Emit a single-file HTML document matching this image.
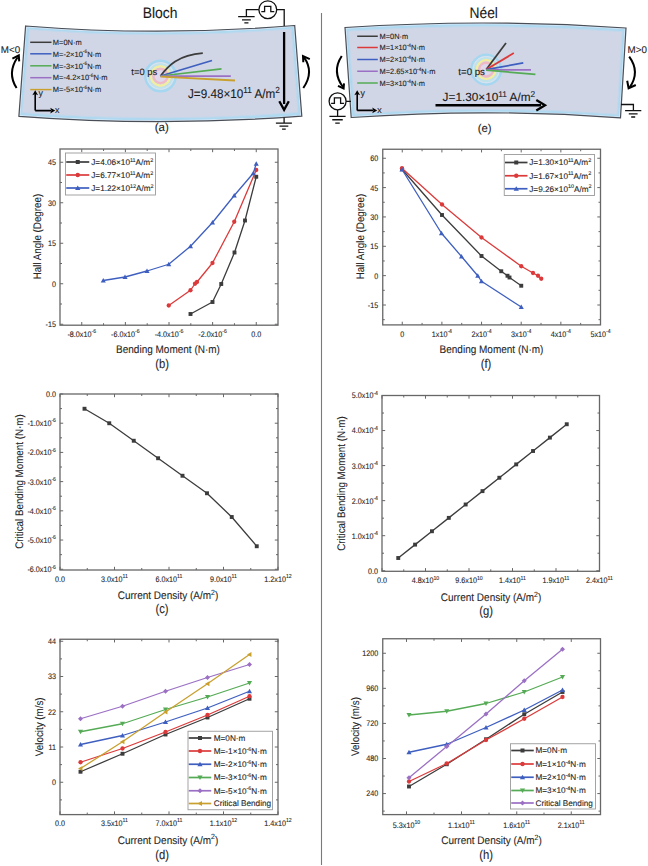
<!DOCTYPE html><html><head><meta charset="utf-8"><style>html,body{margin:0;padding:0;background:#fff;}svg{display:block;} text{stroke:#222;stroke-width:0.1px;text-rendering:geometricPrecision;}</style></head><body>
<svg width="648" height="866" viewBox="0 0 648 866" font-family='"Liberation Sans", sans-serif'>
<rect width="648" height="866" fill="#fff"/>
<path d="M321.5,13V865" stroke="#7a7a7a" stroke-width="1.1"/>
<defs>
<filter id="bl" x="-0.2" y="-0.2" width="1.4" height="1.4"><feGaussianBlur stdDeviation="0.45"/></filter>
<radialGradient id="sky" cx="0.5" cy="0.5" r="0.5">
<stop offset="0" stop-color="#ddd8ee"/>
<stop offset="0.22" stop-color="#e4d4e6"/>
<stop offset="0.36" stop-color="#f2b9c8"/>
<stop offset="0.50" stop-color="#f1c8c8"/>
<stop offset="0.58" stop-color="#f3ef9c"/>
<stop offset="0.68" stop-color="#e8f0b8"/>
<stop offset="0.75" stop-color="#c4e6ee"/>
<stop offset="0.82" stop-color="#d2e4ee"/>
<stop offset="0.90" stop-color="#a9d9f0"/>
<stop offset="1" stop-color="#bcdcef" stop-opacity="0"/>
</radialGradient>
</defs>
<text transform="translate(160.1,17.6) scale(0.915,1)" font-size="15.2" text-anchor="middle" fill="#1a1a1a">Bloch</text>
<clipPath id="clipA"><path d="M25.6,26 Q159.85,36.65 294.7,25.5 L301.8,116.2 Q159.65,126.95 18.9,116.3 Z"/></clipPath>
<path d="M25.6,26 Q159.85,36.65 294.7,25.5 L301.8,116.2 Q159.65,126.95 18.9,116.3 Z" fill="#aed9f0"/>
<path d="M29.38,29.60 Q159.67,40.25 291.28,29.10 L298.02,112.60 Q159.83,123.35 22.32,112.70 Z" fill="#d1d6e6" stroke="#c2d8ec" stroke-width="1"/>
<path d="M25.6,26 Q159.85,36.65 294.7,25.5 L301.8,116.2 Q159.65,126.95 18.9,116.3 Z" fill="none" stroke="#dbe9f8" stroke-width="2.6" clip-path="url(#clipA)"/>
<path d="M25.6,26 Q159.85,36.65 294.7,25.5 L301.8,116.2 Q159.65,126.95 18.9,116.3 Z" fill="none" stroke="#4a4e56" stroke-width="1.2"/>
<path d="M30.2,42.3H51.5" stroke="#3c3c3c" stroke-width="1.5"/>
<text transform="translate(52.8,45.0) scale(0.975,1)" font-size="7.7" fill="#1a1a1a">M=0N·m</text>
<path d="M30.2,53.8H51.5" stroke="#3e5fc0" stroke-width="1.5"/>
<text transform="translate(52.8,56.5) scale(0.975,1)" font-size="7.7" fill="#1a1a1a">M=-2×10<tspan font-size="5.00" dy="-3.08">-6</tspan><tspan dy="3.08">N·m</tspan></text>
<path d="M30.2,65.8H51.5" stroke="#55ab55" stroke-width="1.5"/>
<text transform="translate(52.8,68.5) scale(0.975,1)" font-size="7.7" fill="#1a1a1a">M=-3×10<tspan font-size="5.00" dy="-3.08">-6</tspan><tspan dy="3.08">N·m</tspan></text>
<path d="M30.2,77.7H51.5" stroke="#9b70c4" stroke-width="1.5"/>
<text transform="translate(52.8,80.4) scale(0.975,1)" font-size="7.7" fill="#1a1a1a">M=-4.2×10<tspan font-size="5.00" dy="-3.08">-6</tspan><tspan dy="3.08">N·m</tspan></text>
<path d="M30.2,89.6H51.5" stroke="#c9a02e" stroke-width="1.5"/>
<text transform="translate(52.8,92.3) scale(0.975,1)" font-size="7.7" fill="#1a1a1a">M=-5×10<tspan font-size="5.00" dy="-3.08">-6</tspan><tspan dy="3.08">N·m</tspan></text>
<path d="M35.2,110.6V94 M35.2,110.6H51" fill="none" stroke="#000" stroke-width="1.6"/>
<path d="M35.20,90.30 L38.10,95.30 L35.20,94.10 L32.30,95.30Z" fill="#000"/>
<path d="M55.20,110.60 L50.20,113.50 L51.40,110.60 L50.20,107.70Z" fill="#000"/>
<text x="38.5" y="95.8" font-size="8.8" fill="#1a1a1a">y</text><text x="55" y="112.6" font-size="8.8" fill="#1a1a1a">x</text>
<g filter="url(#bl)">
<circle cx="160.5" cy="76" r="15.20" fill="none" stroke="#a6d7f0" stroke-width="2.60"/>
<circle cx="160.5" cy="76" r="13.20" fill="none" stroke="#d4e4f0" stroke-width="1.30"/>
<circle cx="160.5" cy="76" r="11.70" fill="none" stroke="#bde3eb" stroke-width="1.70"/>
<circle cx="160.5" cy="76" r="9.60" fill="none" stroke="#f2eea0" stroke-width="2.20"/>
<circle cx="160.5" cy="76" r="7.00" fill="none" stroke="#f0b9c6" stroke-width="2.40"/>
<circle cx="160.5" cy="76" r="5.80" fill="#e0d8ec"/>
</g>
<path d="M160.5,76 C168,66 178,55 202.8,53.2" fill="none" stroke="#3c3c3c" stroke-width="1.8"/>
<path d="M160.5,76 L212,60.5" stroke="#3e5fc0" stroke-width="1.75"/>
<path d="M160.5,76 L221.5,68.8" stroke="#55ab55" stroke-width="1.75"/>
<path d="M160.5,76 L230.8,76.2" stroke="#9b70c4" stroke-width="1.75"/>
<path d="M160.5,76.6 L235,80.5" stroke="#c9a02e" stroke-width="1.8"/>
<text x="131.3" y="74.8" font-size="9.4" fill="#1a1a1a">t=0 ps</text>
<text transform="translate(188,97.8) scale(0.93,1)" font-size="12.6" fill="#1a1a1a">J=9.48×10<tspan font-size="8.8" dy="-4.9">11</tspan><tspan dy="4.9"> A/m</tspan><tspan font-size="8.8" dy="-4.9">2</tspan></text>
<path d="M284.1,32V104" stroke="#000" stroke-width="2.3"/>
<path d="M279.3,101.3 L284.1,109.9 L288.8,101.3" fill="none" stroke="#000" stroke-width="2.3"/>
<circle cx="267.8" cy="9.7" r="8.9" fill="none" stroke="#111" stroke-width="1.3"/>
<path d="M261.3,11.7 h3.3 v-5.4 h6.2 v5.4 h3.5" fill="none" stroke="#111" stroke-width="1.3"/>
<path d="M258.9,9.7H246.4V16.7 M276.7,9.7H284.2V26" fill="none" stroke="#111" stroke-width="1.3"/>
<path d="M238.15,16.7h16.5 M242.0,19.8h8.8 M244.35,22.9h4.1" stroke="#111" stroke-width="1.3"/>
<path d="M284.1,117.4V123" stroke="#111" stroke-width="1.3"/>
<path d="M275.9,123.1h16 M279.5,126.1h8.8 M282.04999999999995,129.1h3.7" stroke="#111" stroke-width="1.3"/>
<text x="0.8" y="53.2" font-size="9.8" fill="#1a1a1a">M&lt;0</text>
<path d="M16.6,88 Q6.8,73 17.6,57.2" fill="none" stroke="#000" stroke-width="2"/>
<path d="M12.4,58.6 L18.8,55.4 L19.2,61.4" fill="none" stroke="#000" stroke-width="2" stroke-linejoin="miter"/>
<path d="M303.3,88 Q314.5,72 304,57.4" fill="none" stroke="#000" stroke-width="2"/>
<path d="M303.3,62.3 L303,56 L309.8,59.2" fill="none" stroke="#000" stroke-width="2"/>
<text x="161.8" y="131" font-size="11.5" text-anchor="middle" fill="#1a1a1a">(a)</text>
<text transform="translate(483.7,17.6) scale(0.91,1)" font-size="15.2" text-anchor="middle" fill="#1a1a1a">Néel</text>
<clipPath id="clipE"><path d="M345,27.5 Q486.50,18.25 626,28 L620.5,117.8 Q486.15,107.95 351.2,117.5 Z"/></clipPath>
<path d="M345,27.5 Q486.50,18.25 626,28 L620.5,117.8 Q486.15,107.95 351.2,117.5 Z" fill="#aed9f0"/>
<path d="M348.42,31.10 Q486.68,21.85 622.22,31.60 L617.08,114.20 Q485.97,104.35 354.98,113.90 Z" fill="#d1d6e6" stroke="#c2d8ec" stroke-width="1"/>
<path d="M345,27.5 Q486.50,18.25 626,28 L620.5,117.8 Q486.15,107.95 351.2,117.5 Z" fill="none" stroke="#dbe9f8" stroke-width="2.6" clip-path="url(#clipE)"/>
<path d="M345,27.5 Q486.50,18.25 626,28 L620.5,117.8 Q486.15,107.95 351.2,117.5 Z" fill="none" stroke="#4a4e56" stroke-width="1.2"/>
<path d="M357.2,36.25H377.8" stroke="#3c3c3c" stroke-width="1.5"/>
<text transform="translate(379.5,38.95) scale(0.965,1)" font-size="7.7" fill="#1a1a1a">M=0N·m</text>
<path d="M357.2,47.5H377.8" stroke="#dc3a3a" stroke-width="1.5"/>
<text transform="translate(379.5,50.2) scale(0.965,1)" font-size="7.7" fill="#1a1a1a">M=1×10<tspan font-size="5.00" dy="-3.08">-4</tspan><tspan dy="3.08">N·m</tspan></text>
<path d="M357.2,59.5H377.8" stroke="#3e5fc0" stroke-width="1.5"/>
<text transform="translate(379.5,62.2) scale(0.965,1)" font-size="7.7" fill="#1a1a1a">M=2×10<tspan font-size="5.00" dy="-3.08">-4</tspan><tspan dy="3.08">N·m</tspan></text>
<path d="M357.2,71.25H377.8" stroke="#9b70c4" stroke-width="1.5"/>
<text transform="translate(379.5,73.95) scale(0.965,1)" font-size="7.7" fill="#1a1a1a">M=2.65×10<tspan font-size="5.00" dy="-3.08">-4</tspan><tspan dy="3.08">N·m</tspan></text>
<path d="M357.2,83H377.8" stroke="#55ab55" stroke-width="1.5"/>
<text transform="translate(379.5,85.7) scale(0.965,1)" font-size="7.7" fill="#1a1a1a">M=3×10<tspan font-size="5.00" dy="-3.08">-4</tspan><tspan dy="3.08">N·m</tspan></text>
<path d="M357.2,110.4V94 M357.2,110.4H373" fill="none" stroke="#000" stroke-width="1.6"/>
<path d="M357.20,90.30 L360.10,95.30 L357.20,94.10 L354.30,95.30Z" fill="#000"/>
<path d="M377.20,110.40 L372.20,113.30 L373.40,110.40 L372.20,107.50Z" fill="#000"/>
<text x="360.6" y="95.8" font-size="8.8" fill="#1a1a1a">y</text><text x="377.2" y="112.6" font-size="8.8" fill="#1a1a1a">x</text>
<g filter="url(#bl)">
<circle cx="486.2" cy="69.6" r="14.92" fill="none" stroke="#a6d7f0" stroke-width="2.55"/>
<circle cx="486.2" cy="69.6" r="12.96" fill="none" stroke="#d4e4f0" stroke-width="1.28"/>
<circle cx="486.2" cy="69.6" r="11.49" fill="none" stroke="#bde3eb" stroke-width="1.67"/>
<circle cx="486.2" cy="69.6" r="9.43" fill="none" stroke="#f2eea0" stroke-width="2.16"/>
<circle cx="486.2" cy="69.6" r="6.87" fill="none" stroke="#f0b9c6" stroke-width="2.36"/>
<circle cx="486.2" cy="69.6" r="5.69" fill="#e0d8ec"/>
</g>
<path d="M486.2,69.6 L506,43.1" stroke="#3c3c3c" stroke-width="1.75"/>
<path d="M486.2,69.6 L513.8,53.1" stroke="#dc3a3a" stroke-width="1.75"/>
<path d="M486.2,69.6 L523.3,62.9" stroke="#3e5fc0" stroke-width="1.75"/>
<path d="M486.2,69.8 L531,69.8" stroke="#9b70c4" stroke-width="1.75"/>
<path d="M486.2,70.2 L535.4,74.4" stroke="#55ab55" stroke-width="1.75"/>
<text x="458.3" y="75" font-size="9.7" fill="#1a1a1a">t=0 ps</text>
<text transform="translate(442.6,101.2) scale(1.0,1)" font-size="11.8" fill="#1a1a1a">J=1.30×10<tspan font-size="8.3" dy="-4.6">11</tspan><tspan dy="4.6"> A/m</tspan><tspan font-size="8.3" dy="-4.6">2</tspan></text>
<path d="M435.5,105.2H541" stroke="#000" stroke-width="2.4"/>
<path d="M536.3,100 L545,105.2 L536.3,110.4" fill="none" stroke="#000" stroke-width="2.3"/>
<circle cx="337.6" cy="101.3" r="8.5" fill="none" stroke="#111" stroke-width="1.3"/>
<path d="M331.1,103.3 h3.3 v-5.4 h6.2 v5.4 h3.5" fill="none" stroke="#111" stroke-width="1.3"/>
<path d="M346.1,101.3H351 M337.6,109.8V116.3" fill="none" stroke="#111" stroke-width="1.3"/>
<path d="M329.4,116.3h16.2 M332.25,119.75h10.5 M335.25,123.2h4.5" stroke="#111" stroke-width="1.3"/>
<path d="M621,104.5H633.4V110.7" fill="none" stroke="#111" stroke-width="1.3"/>
<path d="M625.1,110.7h16.2 M628.8000000000001,113.85000000000001h8.8 M631.2,117.0h4" stroke="#111" stroke-width="1.3"/>
<path d="M341.75,56 Q331.5,71.5 343,87" fill="none" stroke="#000" stroke-width="2"/>
<path d="M338,85.8 L343.6,88.5 L344,83.3" fill="none" stroke="#000" stroke-width="2"/>
<text x="627.5" y="53.2" font-size="9.8" fill="#1a1a1a">M&gt;0</text>
<path d="M629.2,56.6 Q640.5,72 629.6,87.5" fill="none" stroke="#000" stroke-width="2"/>
<path d="M627.2,80.8 L628.6,88.2 L635.8,85" fill="none" stroke="#000" stroke-width="2"/>
<text x="484.7" y="131.8" font-size="11.3" text-anchor="middle" fill="#1a1a1a">(e)</text>
<path d="M190.50,314.00 L212.50,302.00 L221.25,284.00 L234.50,252.50 L245.00,220.50 L256.25,176.75" fill="none" stroke="#3c3c3c" stroke-width="1.3" stroke-linejoin="round"/>
<rect x="188.55" y="312.05" width="3.90" height="3.90" fill="#3c3c3c"/>
<rect x="210.55" y="300.05" width="3.90" height="3.90" fill="#3c3c3c"/>
<rect x="219.30" y="282.05" width="3.90" height="3.90" fill="#3c3c3c"/>
<rect x="232.55" y="250.55" width="3.90" height="3.90" fill="#3c3c3c"/>
<rect x="243.05" y="218.55" width="3.90" height="3.90" fill="#3c3c3c"/>
<rect x="254.30" y="174.80" width="3.90" height="3.90" fill="#3c3c3c"/>
<path d="M168.75,305.50 L190.50,290.25 L195.00,283.75 L197.00,282.00 L212.50,263.00 L234.25,221.75 L256.25,170.00" fill="none" stroke="#dc3a3a" stroke-width="1.3" stroke-linejoin="round"/>
<circle cx="168.75" cy="305.50" r="2.15" fill="#dc3a3a"/>
<circle cx="190.50" cy="290.25" r="2.15" fill="#dc3a3a"/>
<circle cx="195.00" cy="283.75" r="2.15" fill="#dc3a3a"/>
<circle cx="197.00" cy="282.00" r="2.15" fill="#dc3a3a"/>
<circle cx="212.50" cy="263.00" r="2.15" fill="#dc3a3a"/>
<circle cx="234.25" cy="221.75" r="2.15" fill="#dc3a3a"/>
<circle cx="256.25" cy="170.00" r="2.15" fill="#dc3a3a"/>
<path d="M103.25,280.50 L125.00,277.00 L147.00,271.00 L168.75,264.25 L190.50,246.25 L212.50,222.50 L234.25,195.50 L253.25,173.25 L256.25,163.75" fill="none" stroke="#3e5fc0" stroke-width="1.3" stroke-linejoin="round"/>
<path d="M103.25,278.06 L105.81,282.45 L100.69,282.45Z" fill="#3e5fc0"/>
<path d="M125.00,274.56 L127.56,278.95 L122.44,278.95Z" fill="#3e5fc0"/>
<path d="M147.00,268.56 L149.56,272.95 L144.44,272.95Z" fill="#3e5fc0"/>
<path d="M168.75,261.81 L171.31,266.20 L166.19,266.20Z" fill="#3e5fc0"/>
<path d="M190.50,243.81 L193.06,248.20 L187.94,248.20Z" fill="#3e5fc0"/>
<path d="M212.50,220.06 L215.06,224.45 L209.94,224.45Z" fill="#3e5fc0"/>
<path d="M234.25,193.06 L236.81,197.45 L231.69,197.45Z" fill="#3e5fc0"/>
<path d="M253.25,170.81 L255.81,175.20 L250.69,175.20Z" fill="#3e5fc0"/>
<path d="M256.25,161.31 L258.81,165.70 L253.69,165.70Z" fill="#3e5fc0"/>
<rect x="60" y="149" width="218.00" height="176.20" fill="none" stroke="#676767" stroke-width="1.3"/>
<path d="M81.75,325.2v-3.2 M81.75,149v3.2 M125.38,325.2v-3.2 M125.38,149v3.2 M169.00,325.2v-3.2 M169.00,149v3.2 M212.62,325.2v-3.2 M212.62,149v3.2 M256.25,325.2v-3.2 M256.25,149v3.2 M103.56,325.2v-2.0 M103.56,149v2.0 M147.19,325.2v-2.0 M147.19,149v2.0 M190.81,325.2v-2.0 M190.81,149v2.0 M234.44,325.2v-2.0 M234.44,149v2.0 M60,162.25h3.2 M278,162.25h-3.2 M60,202.75h3.2 M278,202.75h-3.2 M60,243.25h3.2 M278,243.25h-3.2 M60,283.75h3.2 M278,283.75h-3.2 M60,324.25h3.2 M278,324.25h-3.2 M60,182.50h2.0 M278,182.50h-2.0 M60,223.00h2.0 M278,223.00h-2.0 M60,263.50h2.0 M278,263.50h-2.0 M60,304.00h2.0 M278,304.00h-2.0" stroke="#676767" stroke-width="1" fill="none"/>
<text transform="translate(81.75,336.70) scale(0.893,1)" font-size="8.06" text-anchor="middle" fill="#262626">-8.0x10<tspan font-size="5.81" dy="-3.63">-6</tspan></text>
<text transform="translate(125.38,336.70) scale(0.893,1)" font-size="8.06" text-anchor="middle" fill="#262626">-6.0x10<tspan font-size="5.81" dy="-3.63">-6</tspan></text>
<text transform="translate(169.00,336.70) scale(0.893,1)" font-size="8.06" text-anchor="middle" fill="#262626">-4.0x10<tspan font-size="5.81" dy="-3.63">-6</tspan></text>
<text transform="translate(212.62,336.70) scale(0.893,1)" font-size="8.06" text-anchor="middle" fill="#262626">-2.0x10<tspan font-size="5.81" dy="-3.63">-6</tspan></text>
<text transform="translate(256.25,336.70) scale(0.893,1)" font-size="8.06" text-anchor="middle" fill="#262626">0.0</text>
<text transform="translate(56.00,165.15) scale(0.893,1)" font-size="8.06" text-anchor="end" fill="#262626">45</text>
<text transform="translate(56.00,205.65) scale(0.893,1)" font-size="8.06" text-anchor="end" fill="#262626">30</text>
<text transform="translate(56.00,246.15) scale(0.893,1)" font-size="8.06" text-anchor="end" fill="#262626">15</text>
<text transform="translate(56.00,286.65) scale(0.893,1)" font-size="8.06" text-anchor="end" fill="#262626">0</text>
<text transform="translate(56.00,327.15) scale(0.893,1)" font-size="8.06" text-anchor="end" fill="#262626">-15</text>
<text transform="translate(168.00,353.00) scale(0.911,1)" font-size="10.98" text-anchor="middle" fill="#262626">Bending Moment (N·m)</text>
<text transform="translate(40.50,236.50) rotate(-90) scale(0.893,1)" font-size="10.98" text-anchor="middle" fill="#262626">Hall Angle (Degree)</text>
<text transform="translate(162.00,368.00) scale(0.880,1)" font-size="12.80" text-anchor="middle" fill="#262626">(b)</text>
<rect x="65.5" y="153" width="90.00" height="42.00" fill="#fff" stroke="#9a9a9a" stroke-width="0.9"/>
<path d="M66.25,162.00H89.25" stroke="#3c3c3c" stroke-width="1.7"/>
<rect x="75.75" y="160.00" width="4.00" height="4.00" fill="#3c3c3c"/>
<text x="91.25" y="164.95" font-size="8.2" text-anchor="start" fill="#262626" >J=4.06×10<tspan font-size="5.41" dy="-3.44">11</tspan><tspan dy="3.44">A/m</tspan><tspan font-size="5.41" dy="-3.44">2</tspan><tspan dy="3.44"></tspan></text>
<path d="M66.25,175.00H89.25" stroke="#dc3a3a" stroke-width="1.7"/>
<circle cx="77.75" cy="175.00" r="2.20" fill="#dc3a3a"/>
<text x="91.25" y="177.95" font-size="8.2" text-anchor="start" fill="#262626" >J=6.77×10<tspan font-size="5.41" dy="-3.44">11</tspan><tspan dy="3.44">A/m</tspan><tspan font-size="5.41" dy="-3.44">2</tspan><tspan dy="3.44"></tspan></text>
<path d="M66.25,188.00H89.25" stroke="#3e5fc0" stroke-width="1.7"/>
<path d="M77.75,185.50 L80.38,190.00 L75.12,190.00Z" fill="#3e5fc0"/>
<text x="91.25" y="190.95" font-size="8.2" text-anchor="start" fill="#262626" >J=1.22×10<tspan font-size="5.41" dy="-3.44">12</tspan><tspan dy="3.44">A/m</tspan><tspan font-size="5.41" dy="-3.44">2</tspan><tspan dy="3.44"></tspan></text>
<path d="M84.50,408.75 L109.25,423.25 L133.75,440.75 L158.10,458.25 L182.50,475.75 L207.00,493.25 L231.75,517.00 L256.75,546.25" fill="none" stroke="#3c3c3c" stroke-width="1.3" stroke-linejoin="round"/>
<rect x="82.55" y="406.80" width="3.90" height="3.90" fill="#3c3c3c"/>
<rect x="107.30" y="421.30" width="3.90" height="3.90" fill="#3c3c3c"/>
<rect x="131.80" y="438.80" width="3.90" height="3.90" fill="#3c3c3c"/>
<rect x="156.15" y="456.30" width="3.90" height="3.90" fill="#3c3c3c"/>
<rect x="180.55" y="473.80" width="3.90" height="3.90" fill="#3c3c3c"/>
<rect x="205.05" y="491.30" width="3.90" height="3.90" fill="#3c3c3c"/>
<rect x="229.80" y="515.05" width="3.90" height="3.90" fill="#3c3c3c"/>
<rect x="254.80" y="544.30" width="3.90" height="3.90" fill="#3c3c3c"/>
<rect x="60" y="394" width="218.00" height="176.00" fill="none" stroke="#676767" stroke-width="1.3"/>
<path d="M60.00,570v-3.2 M60.00,394v3.2 M114.50,570v-3.2 M114.50,394v3.2 M169.00,570v-3.2 M169.00,394v3.2 M223.50,570v-3.2 M223.50,394v3.2 M278.00,570v-3.2 M278.00,394v3.2 M87.25,570v-2.0 M87.25,394v2.0 M141.75,570v-2.0 M141.75,394v2.0 M196.25,570v-2.0 M196.25,394v2.0 M250.75,570v-2.0 M250.75,394v2.0 M60,394.00h3.2 M278,394.00h-3.2 M60,423.21h3.2 M278,423.21h-3.2 M60,452.42h3.2 M278,452.42h-3.2 M60,481.62h3.2 M278,481.62h-3.2 M60,510.83h3.2 M278,510.83h-3.2 M60,540.04h3.2 M278,540.04h-3.2 M60,569.25h3.2 M278,569.25h-3.2 M60,408.60h2.0 M278,408.60h-2.0 M60,437.81h2.0 M278,437.81h-2.0 M60,467.02h2.0 M278,467.02h-2.0 M60,496.23h2.0 M278,496.23h-2.0 M60,525.44h2.0 M278,525.44h-2.0 M60,554.65h2.0 M278,554.65h-2.0" stroke="#676767" stroke-width="1" fill="none"/>
<text transform="translate(60.00,581.70) scale(0.893,1)" font-size="8.06" text-anchor="middle" fill="#262626">0.0</text>
<text transform="translate(114.50,581.70) scale(0.893,1)" font-size="8.06" text-anchor="middle" fill="#262626">3.0x10<tspan font-size="5.81" dy="-3.63">11</tspan></text>
<text transform="translate(169.00,581.70) scale(0.893,1)" font-size="8.06" text-anchor="middle" fill="#262626">6.0x10<tspan font-size="5.81" dy="-3.63">11</tspan></text>
<text transform="translate(223.50,581.70) scale(0.893,1)" font-size="8.06" text-anchor="middle" fill="#262626">9.0x10<tspan font-size="5.81" dy="-3.63">11</tspan></text>
<text transform="translate(278.00,581.70) scale(0.893,1)" font-size="8.06" text-anchor="middle" fill="#262626">1.2x10<tspan font-size="5.81" dy="-3.63">12</tspan></text>
<text transform="translate(56.00,396.90) scale(0.893,1)" font-size="8.06" text-anchor="end" fill="#262626">0.0</text>
<text transform="translate(56.00,426.11) scale(0.893,1)" font-size="8.06" text-anchor="end" fill="#262626">-1.0x10<tspan font-size="5.81" dy="-3.63">-6</tspan></text>
<text transform="translate(56.00,455.32) scale(0.893,1)" font-size="8.06" text-anchor="end" fill="#262626">-2.0x10<tspan font-size="5.81" dy="-3.63">-6</tspan></text>
<text transform="translate(56.00,484.53) scale(0.893,1)" font-size="8.06" text-anchor="end" fill="#262626">-3.0x10<tspan font-size="5.81" dy="-3.63">-6</tspan></text>
<text transform="translate(56.00,513.74) scale(0.893,1)" font-size="8.06" text-anchor="end" fill="#262626">-4.0x10<tspan font-size="5.81" dy="-3.63">-6</tspan></text>
<text transform="translate(56.00,542.94) scale(0.893,1)" font-size="8.06" text-anchor="end" fill="#262626">-5.0x10<tspan font-size="5.81" dy="-3.63">-6</tspan></text>
<text transform="translate(56.00,572.15) scale(0.893,1)" font-size="8.06" text-anchor="end" fill="#262626">-6.0x10<tspan font-size="5.81" dy="-3.63">-6</tspan></text>
<text transform="translate(168.00,599.00) scale(0.911,1)" font-size="10.98" text-anchor="middle" fill="#262626">Current Density (A/m<tspan font-size="7.6" dy="-4.2">2</tspan><tspan dy="4.2">)</tspan></text>
<text transform="translate(22.50,481.50) rotate(-90) scale(0.893,1)" font-size="10.98" text-anchor="middle" fill="#262626">Critical Bending Moment (N·m)</text>
<text transform="translate(162.00,613.00) scale(0.880,1)" font-size="12.80" text-anchor="middle" fill="#262626">(c)</text>
<path d="M80.50,771.75 L122.50,753.75 L165.50,734.50 L207.50,717.50 L249.50,698.75" fill="none" stroke="#3c3c3c" stroke-width="1.3" stroke-linejoin="round"/>
<rect x="78.55" y="769.80" width="3.90" height="3.90" fill="#3c3c3c"/>
<rect x="120.55" y="751.80" width="3.90" height="3.90" fill="#3c3c3c"/>
<rect x="163.55" y="732.55" width="3.90" height="3.90" fill="#3c3c3c"/>
<rect x="205.55" y="715.55" width="3.90" height="3.90" fill="#3c3c3c"/>
<rect x="247.55" y="696.80" width="3.90" height="3.90" fill="#3c3c3c"/>
<path d="M80.50,762.25 L122.50,748.50 L165.50,732.00 L207.50,715.00 L249.50,696.25" fill="none" stroke="#dc3a3a" stroke-width="1.3" stroke-linejoin="round"/>
<circle cx="80.50" cy="762.25" r="2.15" fill="#dc3a3a"/>
<circle cx="122.50" cy="748.50" r="2.15" fill="#dc3a3a"/>
<circle cx="165.50" cy="732.00" r="2.15" fill="#dc3a3a"/>
<circle cx="207.50" cy="715.00" r="2.15" fill="#dc3a3a"/>
<circle cx="249.50" cy="696.25" r="2.15" fill="#dc3a3a"/>
<path d="M80.50,744.50 L122.50,735.50 L165.50,722.00 L207.50,708.00 L249.50,691.25" fill="none" stroke="#3e5fc0" stroke-width="1.3" stroke-linejoin="round"/>
<path d="M80.50,742.06 L83.06,746.45 L77.94,746.45Z" fill="#3e5fc0"/>
<path d="M122.50,733.06 L125.06,737.45 L119.94,737.45Z" fill="#3e5fc0"/>
<path d="M165.50,719.56 L168.06,723.95 L162.94,723.95Z" fill="#3e5fc0"/>
<path d="M207.50,705.56 L210.06,709.95 L204.94,709.95Z" fill="#3e5fc0"/>
<path d="M249.50,688.81 L252.06,693.20 L246.94,693.20Z" fill="#3e5fc0"/>
<path d="M80.50,731.75 L122.50,723.75 L165.50,709.50 L207.50,697.00 L249.50,683.00" fill="none" stroke="#55ab55" stroke-width="1.3" stroke-linejoin="round"/>
<path d="M80.50,734.19 L83.06,729.80 L77.94,729.80Z" fill="#55ab55"/>
<path d="M122.50,726.19 L125.06,721.80 L119.94,721.80Z" fill="#55ab55"/>
<path d="M165.50,711.94 L168.06,707.55 L162.94,707.55Z" fill="#55ab55"/>
<path d="M207.50,699.44 L210.06,695.05 L204.94,695.05Z" fill="#55ab55"/>
<path d="M249.50,685.44 L252.06,681.05 L246.94,681.05Z" fill="#55ab55"/>
<path d="M80.50,718.75 L122.50,706.25 L165.50,691.25 L207.50,677.50 L249.50,664.50" fill="none" stroke="#9b70c4" stroke-width="1.3" stroke-linejoin="round"/>
<path d="M80.50,716.22 L83.03,718.75 L80.50,721.28 L77.97,718.75Z" fill="#9b70c4"/>
<path d="M122.50,703.72 L125.03,706.25 L122.50,708.78 L119.97,706.25Z" fill="#9b70c4"/>
<path d="M165.50,688.72 L168.03,691.25 L165.50,693.78 L162.97,691.25Z" fill="#9b70c4"/>
<path d="M207.50,674.97 L210.03,677.50 L207.50,680.03 L204.97,677.50Z" fill="#9b70c4"/>
<path d="M249.50,661.97 L252.03,664.50 L249.50,667.03 L246.97,664.50Z" fill="#9b70c4"/>
<path d="M80.50,768.50 L122.50,741.75 L165.50,712.00 L207.50,683.75 L249.50,654.50" fill="none" stroke="#c9a02e" stroke-width="1.3" stroke-linejoin="round"/>
<path d="M78.06,768.50 L82.45,765.94 L82.45,771.06Z" fill="#c9a02e"/>
<path d="M120.06,741.75 L124.45,739.19 L124.45,744.31Z" fill="#c9a02e"/>
<path d="M163.06,712.00 L167.45,709.44 L167.45,714.56Z" fill="#c9a02e"/>
<path d="M205.06,683.75 L209.45,681.19 L209.45,686.31Z" fill="#c9a02e"/>
<path d="M247.06,654.50 L251.45,651.94 L251.45,657.06Z" fill="#c9a02e"/>
<rect x="60" y="639.25" width="218.00" height="175.35" fill="none" stroke="#676767" stroke-width="1.3"/>
<path d="M60.00,814.6v-3.2 M60.00,639.25v3.2 M114.50,814.6v-3.2 M114.50,639.25v3.2 M169.00,814.6v-3.2 M169.00,639.25v3.2 M223.50,814.6v-3.2 M223.50,639.25v3.2 M278.00,814.6v-3.2 M278.00,639.25v3.2 M87.25,814.6v-2.0 M87.25,639.25v2.0 M141.75,814.6v-2.0 M141.75,639.25v2.0 M196.25,814.6v-2.0 M196.25,639.25v2.0 M250.75,814.6v-2.0 M250.75,639.25v2.0 M60,641.25h3.2 M278,641.25h-3.2 M60,676.50h3.2 M278,676.50h-3.2 M60,711.75h3.2 M278,711.75h-3.2 M60,747.00h3.2 M278,747.00h-3.2 M60,782.25h3.2 M278,782.25h-3.2 M60,658.88h2.0 M278,658.88h-2.0 M60,694.12h2.0 M278,694.12h-2.0 M60,729.38h2.0 M278,729.38h-2.0 M60,764.62h2.0 M278,764.62h-2.0 M60,799.88h2.0 M278,799.88h-2.0" stroke="#676767" stroke-width="1" fill="none"/>
<text transform="translate(60.00,825.70) scale(0.893,1)" font-size="8.06" text-anchor="middle" fill="#262626">0.0</text>
<text transform="translate(114.50,825.70) scale(0.893,1)" font-size="8.06" text-anchor="middle" fill="#262626">3.5x10<tspan font-size="5.81" dy="-3.63">11</tspan></text>
<text transform="translate(169.00,825.70) scale(0.893,1)" font-size="8.06" text-anchor="middle" fill="#262626">7.0x10<tspan font-size="5.81" dy="-3.63">11</tspan></text>
<text transform="translate(223.50,825.70) scale(0.893,1)" font-size="8.06" text-anchor="middle" fill="#262626">1.1x10<tspan font-size="5.81" dy="-3.63">12</tspan></text>
<text transform="translate(278.00,825.70) scale(0.893,1)" font-size="8.06" text-anchor="middle" fill="#262626">1.4x10<tspan font-size="5.81" dy="-3.63">12</tspan></text>
<text transform="translate(56.00,644.15) scale(0.893,1)" font-size="8.06" text-anchor="end" fill="#262626">44</text>
<text transform="translate(56.00,679.40) scale(0.893,1)" font-size="8.06" text-anchor="end" fill="#262626">33</text>
<text transform="translate(56.00,714.65) scale(0.893,1)" font-size="8.06" text-anchor="end" fill="#262626">22</text>
<text transform="translate(56.00,749.90) scale(0.893,1)" font-size="8.06" text-anchor="end" fill="#262626">11</text>
<text transform="translate(56.00,785.15) scale(0.893,1)" font-size="8.06" text-anchor="end" fill="#262626">0</text>
<text transform="translate(168.00,843.50) scale(0.911,1)" font-size="10.98" text-anchor="middle" fill="#262626">Current Density (A/m<tspan font-size="7.6" dy="-4.2">2</tspan><tspan dy="4.2">)</tspan></text>
<text transform="translate(43.20,726.80) rotate(-90) scale(0.893,1)" font-size="10.98" text-anchor="middle" fill="#262626">Velocity (m/s)</text>
<text transform="translate(162.00,858.50) scale(0.880,1)" font-size="12.80" text-anchor="middle" fill="#262626">(d)</text>
<rect x="188" y="731.25" width="84.50" height="78.50" fill="#fff" stroke="#9a9a9a" stroke-width="0.9"/>
<path d="M188.75,738.00H211.25" stroke="#3c3c3c" stroke-width="1.7"/>
<rect x="198.00" y="736.00" width="4.00" height="4.00" fill="#3c3c3c"/>
<text x="213.75" y="740.95" font-size="8.2" text-anchor="start" fill="#262626" >M=0N·m</text>
<path d="M188.75,751.00H211.25" stroke="#dc3a3a" stroke-width="1.7"/>
<circle cx="200.00" cy="751.00" r="2.20" fill="#dc3a3a"/>
<text x="213.75" y="753.95" font-size="8.2" text-anchor="start" fill="#262626" >M=-1×10<tspan font-size="5.41" dy="-3.44">-6</tspan><tspan dy="3.44">N·m</tspan></text>
<path d="M188.75,764.25H211.25" stroke="#3e5fc0" stroke-width="1.7"/>
<path d="M200.00,761.75 L202.62,766.25 L197.38,766.25Z" fill="#3e5fc0"/>
<text x="213.75" y="767.20" font-size="8.2" text-anchor="start" fill="#262626" >M=-2×10<tspan font-size="5.41" dy="-3.44">-6</tspan><tspan dy="3.44">N·m</tspan></text>
<path d="M188.75,777.50H211.25" stroke="#55ab55" stroke-width="1.7"/>
<path d="M200.00,780.00 L202.62,775.50 L197.38,775.50Z" fill="#55ab55"/>
<text x="213.75" y="780.45" font-size="8.2" text-anchor="start" fill="#262626" >M=-3×10<tspan font-size="5.41" dy="-3.44">-6</tspan><tspan dy="3.44">N·m</tspan></text>
<path d="M188.75,790.75H211.25" stroke="#9b70c4" stroke-width="1.7"/>
<path d="M200.00,788.15 L202.60,790.75 L200.00,793.35 L197.40,790.75Z" fill="#9b70c4"/>
<text x="213.75" y="793.70" font-size="8.2" text-anchor="start" fill="#262626" >M=-5×10<tspan font-size="5.41" dy="-3.44">-6</tspan><tspan dy="3.44">N·m</tspan></text>
<path d="M188.75,803.50H211.25" stroke="#c9a02e" stroke-width="1.7"/>
<path d="M197.50,803.50 L202.00,800.88 L202.00,806.12Z" fill="#c9a02e"/>
<text x="213.75" y="806.45" font-size="8.2" text-anchor="start" fill="#262626" >Critical Bending</text>
<path d="M402.00,169.25 L442.00,215.00 L481.50,256.00 L501.25,271.25 L507.50,275.75 L509.50,277.50 L521.25,285.75" fill="none" stroke="#3c3c3c" stroke-width="1.3" stroke-linejoin="round"/>
<rect x="400.05" y="167.30" width="3.90" height="3.90" fill="#3c3c3c"/>
<rect x="440.05" y="213.05" width="3.90" height="3.90" fill="#3c3c3c"/>
<rect x="479.55" y="254.05" width="3.90" height="3.90" fill="#3c3c3c"/>
<rect x="499.30" y="269.30" width="3.90" height="3.90" fill="#3c3c3c"/>
<rect x="505.55" y="273.80" width="3.90" height="3.90" fill="#3c3c3c"/>
<rect x="507.55" y="275.55" width="3.90" height="3.90" fill="#3c3c3c"/>
<rect x="519.30" y="283.80" width="3.90" height="3.90" fill="#3c3c3c"/>
<path d="M402.00,168.25 L442.00,204.50 L481.50,237.50 L521.25,266.25 L533.00,273.00 L538.00,275.75 L541.25,278.75" fill="none" stroke="#dc3a3a" stroke-width="1.3" stroke-linejoin="round"/>
<circle cx="402.00" cy="168.25" r="2.15" fill="#dc3a3a"/>
<circle cx="442.00" cy="204.50" r="2.15" fill="#dc3a3a"/>
<circle cx="481.50" cy="237.50" r="2.15" fill="#dc3a3a"/>
<circle cx="521.25" cy="266.25" r="2.15" fill="#dc3a3a"/>
<circle cx="533.00" cy="273.00" r="2.15" fill="#dc3a3a"/>
<circle cx="538.00" cy="275.75" r="2.15" fill="#dc3a3a"/>
<circle cx="541.25" cy="278.75" r="2.15" fill="#dc3a3a"/>
<path d="M402.00,169.50 L441.50,233.25 L461.50,256.50 L477.75,275.75 L481.50,281.25 L521.25,307.00" fill="none" stroke="#3e5fc0" stroke-width="1.3" stroke-linejoin="round"/>
<path d="M402.00,167.06 L404.56,171.45 L399.44,171.45Z" fill="#3e5fc0"/>
<path d="M441.50,230.81 L444.06,235.20 L438.94,235.20Z" fill="#3e5fc0"/>
<path d="M461.50,254.06 L464.06,258.45 L458.94,258.45Z" fill="#3e5fc0"/>
<path d="M477.75,273.31 L480.31,277.70 L475.19,277.70Z" fill="#3e5fc0"/>
<path d="M481.50,278.81 L484.06,283.20 L478.94,283.20Z" fill="#3e5fc0"/>
<path d="M521.25,304.56 L523.81,308.95 L518.69,308.95Z" fill="#3e5fc0"/>
<rect x="382.75" y="149.25" width="217.75" height="175.65" fill="none" stroke="#676767" stroke-width="1.3"/>
<path d="M402.25,324.9v-3.2 M402.25,149.25v3.2 M441.90,324.9v-3.2 M441.90,149.25v3.2 M481.55,324.9v-3.2 M481.55,149.25v3.2 M521.20,324.9v-3.2 M521.20,149.25v3.2 M560.85,324.9v-3.2 M560.85,149.25v3.2 M600.50,324.9v-3.2 M600.50,149.25v3.2 M422.07,324.9v-2.0 M422.07,149.25v2.0 M461.73,324.9v-2.0 M461.73,149.25v2.0 M501.38,324.9v-2.0 M501.38,149.25v2.0 M541.02,324.9v-2.0 M541.02,149.25v2.0 M580.67,324.9v-2.0 M580.67,149.25v2.0 M382.75,158.25h3.2 M600.5,158.25h-3.2 M382.75,187.60h3.2 M600.5,187.60h-3.2 M382.75,216.95h3.2 M600.5,216.95h-3.2 M382.75,246.30h3.2 M600.5,246.30h-3.2 M382.75,275.65h3.2 M600.5,275.65h-3.2 M382.75,305.00h3.2 M600.5,305.00h-3.2 M382.75,172.93h2.0 M600.5,172.93h-2.0 M382.75,202.28h2.0 M600.5,202.28h-2.0 M382.75,231.62h2.0 M600.5,231.62h-2.0 M382.75,260.98h2.0 M600.5,260.98h-2.0 M382.75,290.32h2.0 M600.5,290.32h-2.0 M382.75,319.68h2.0 M600.5,319.68h-2.0" stroke="#676767" stroke-width="1" fill="none"/>
<text transform="translate(402.25,336.70) scale(0.893,1)" font-size="8.06" text-anchor="middle" fill="#262626">0</text>
<text transform="translate(441.90,336.70) scale(0.893,1)" font-size="8.06" text-anchor="middle" fill="#262626">1x10<tspan font-size="5.81" dy="-3.63">-4</tspan></text>
<text transform="translate(481.55,336.70) scale(0.893,1)" font-size="8.06" text-anchor="middle" fill="#262626">2x10<tspan font-size="5.81" dy="-3.63">-4</tspan></text>
<text transform="translate(521.20,336.70) scale(0.893,1)" font-size="8.06" text-anchor="middle" fill="#262626">3x10<tspan font-size="5.81" dy="-3.63">-4</tspan></text>
<text transform="translate(560.85,336.70) scale(0.893,1)" font-size="8.06" text-anchor="middle" fill="#262626">4x10<tspan font-size="5.81" dy="-3.63">-4</tspan></text>
<text transform="translate(600.50,336.70) scale(0.893,1)" font-size="8.06" text-anchor="middle" fill="#262626">5x10<tspan font-size="5.81" dy="-3.63">-4</tspan></text>
<text transform="translate(378.25,161.15) scale(0.893,1)" font-size="8.06" text-anchor="end" fill="#262626">60</text>
<text transform="translate(378.25,190.50) scale(0.893,1)" font-size="8.06" text-anchor="end" fill="#262626">45</text>
<text transform="translate(378.25,219.85) scale(0.893,1)" font-size="8.06" text-anchor="end" fill="#262626">30</text>
<text transform="translate(378.25,249.20) scale(0.893,1)" font-size="8.06" text-anchor="end" fill="#262626">15</text>
<text transform="translate(378.25,278.55) scale(0.893,1)" font-size="8.06" text-anchor="end" fill="#262626">0</text>
<text transform="translate(378.25,307.90) scale(0.893,1)" font-size="8.06" text-anchor="end" fill="#262626">-15</text>
<text transform="translate(491.50,353.00) scale(0.911,1)" font-size="10.98" text-anchor="middle" fill="#262626">Bending Moment (N·m)</text>
<text transform="translate(363.50,236.50) rotate(-90) scale(0.893,1)" font-size="10.98" text-anchor="middle" fill="#262626">Hall Angle (Degree)</text>
<text transform="translate(486.00,368.00) scale(0.880,1)" font-size="12.80" text-anchor="middle" fill="#262626">(f)</text>
<rect x="504.25" y="154.5" width="90.25" height="41.00" fill="#fff" stroke="#9a9a9a" stroke-width="0.9"/>
<path d="M505,162.50H527.5" stroke="#3c3c3c" stroke-width="1.7"/>
<rect x="514.25" y="160.50" width="4.00" height="4.00" fill="#3c3c3c"/>
<text x="529.25" y="165.45" font-size="8.2" text-anchor="start" fill="#262626" >J=1.30×10<tspan font-size="5.41" dy="-3.44">11</tspan><tspan dy="3.44">A/m</tspan><tspan font-size="5.41" dy="-3.44">2</tspan><tspan dy="3.44"></tspan></text>
<path d="M505,175.75H527.5" stroke="#dc3a3a" stroke-width="1.7"/>
<circle cx="516.25" cy="175.75" r="2.20" fill="#dc3a3a"/>
<text x="529.25" y="178.70" font-size="8.2" text-anchor="start" fill="#262626" >J=1.67×10<tspan font-size="5.41" dy="-3.44">11</tspan><tspan dy="3.44">A/m</tspan><tspan font-size="5.41" dy="-3.44">2</tspan><tspan dy="3.44"></tspan></text>
<path d="M505,188.75H527.5" stroke="#3e5fc0" stroke-width="1.7"/>
<path d="M516.25,186.25 L518.88,190.75 L513.62,190.75Z" fill="#3e5fc0"/>
<text x="529.25" y="191.70" font-size="8.2" text-anchor="start" fill="#262626" >J=9.26×10<tspan font-size="5.41" dy="-3.44">10</tspan><tspan dy="3.44">A/m</tspan><tspan font-size="5.41" dy="-3.44">2</tspan><tspan dy="3.44"></tspan></text>
<path d="M398.25,558.00 L415.10,544.62 L431.95,531.25 L448.80,517.88 L465.65,504.50 L482.50,491.12 L499.35,477.75 L516.20,464.38 L533.05,451.00 L549.90,437.62 L566.75,424.25" fill="none" stroke="#3c3c3c" stroke-width="1.3" stroke-linejoin="round"/>
<rect x="396.30" y="556.05" width="3.90" height="3.90" fill="#3c3c3c"/>
<rect x="413.15" y="542.67" width="3.90" height="3.90" fill="#3c3c3c"/>
<rect x="430.00" y="529.30" width="3.90" height="3.90" fill="#3c3c3c"/>
<rect x="446.85" y="515.92" width="3.90" height="3.90" fill="#3c3c3c"/>
<rect x="463.70" y="502.55" width="3.90" height="3.90" fill="#3c3c3c"/>
<rect x="480.55" y="489.18" width="3.90" height="3.90" fill="#3c3c3c"/>
<rect x="497.40" y="475.80" width="3.90" height="3.90" fill="#3c3c3c"/>
<rect x="514.25" y="462.43" width="3.90" height="3.90" fill="#3c3c3c"/>
<rect x="531.10" y="449.05" width="3.90" height="3.90" fill="#3c3c3c"/>
<rect x="547.95" y="435.68" width="3.90" height="3.90" fill="#3c3c3c"/>
<rect x="564.80" y="422.30" width="3.90" height="3.90" fill="#3c3c3c"/>
<rect x="382" y="395.5" width="217.50" height="175.80" fill="none" stroke="#676767" stroke-width="1.3"/>
<path d="M382.00,571.3v-3.2 M382.00,395.5v3.2 M425.50,571.3v-3.2 M425.50,395.5v3.2 M469.00,571.3v-3.2 M469.00,395.5v3.2 M512.50,571.3v-3.2 M512.50,395.5v3.2 M556.00,571.3v-3.2 M556.00,395.5v3.2 M599.50,571.3v-3.2 M599.50,395.5v3.2 M403.75,571.3v-2.0 M403.75,395.5v2.0 M447.25,571.3v-2.0 M447.25,395.5v2.0 M490.75,571.3v-2.0 M490.75,395.5v2.0 M534.25,571.3v-2.0 M534.25,395.5v2.0 M577.75,571.3v-2.0 M577.75,395.5v2.0 M382,570.75h3.2 M599.5,570.75h-3.2 M382,535.70h3.2 M599.5,535.70h-3.2 M382,500.65h3.2 M599.5,500.65h-3.2 M382,465.60h3.2 M599.5,465.60h-3.2 M382,430.55h3.2 M599.5,430.55h-3.2 M382,395.50h3.2 M599.5,395.50h-3.2 M382,553.23h2.0 M599.5,553.23h-2.0 M382,518.17h2.0 M599.5,518.17h-2.0 M382,483.12h2.0 M599.5,483.12h-2.0 M382,448.07h2.0 M599.5,448.07h-2.0 M382,413.02h2.0 M599.5,413.02h-2.0" stroke="#676767" stroke-width="1" fill="none"/>
<text transform="translate(382.00,583.20) scale(0.893,1)" font-size="8.06" text-anchor="middle" fill="#262626">0.0</text>
<text transform="translate(425.50,583.20) scale(0.893,1)" font-size="8.06" text-anchor="middle" fill="#262626">4.8x10<tspan font-size="5.81" dy="-3.63">10</tspan></text>
<text transform="translate(469.00,583.20) scale(0.893,1)" font-size="8.06" text-anchor="middle" fill="#262626">9.6x10<tspan font-size="5.81" dy="-3.63">10</tspan></text>
<text transform="translate(512.50,583.20) scale(0.893,1)" font-size="8.06" text-anchor="middle" fill="#262626">1.4x10<tspan font-size="5.81" dy="-3.63">11</tspan></text>
<text transform="translate(556.00,583.20) scale(0.893,1)" font-size="8.06" text-anchor="middle" fill="#262626">1.9x10<tspan font-size="5.81" dy="-3.63">11</tspan></text>
<text transform="translate(599.50,583.20) scale(0.893,1)" font-size="8.06" text-anchor="middle" fill="#262626">2.4x10<tspan font-size="5.81" dy="-3.63">11</tspan></text>
<text transform="translate(378.00,573.65) scale(0.893,1)" font-size="8.06" text-anchor="end" fill="#262626">0.0</text>
<text transform="translate(378.00,538.60) scale(0.893,1)" font-size="8.06" text-anchor="end" fill="#262626">1.0x10<tspan font-size="5.81" dy="-3.63">-4</tspan></text>
<text transform="translate(378.00,503.55) scale(0.893,1)" font-size="8.06" text-anchor="end" fill="#262626">2.0x10<tspan font-size="5.81" dy="-3.63">-4</tspan></text>
<text transform="translate(378.00,468.50) scale(0.893,1)" font-size="8.06" text-anchor="end" fill="#262626">3.0x10<tspan font-size="5.81" dy="-3.63">-4</tspan></text>
<text transform="translate(378.00,433.45) scale(0.893,1)" font-size="8.06" text-anchor="end" fill="#262626">4.0x10<tspan font-size="5.81" dy="-3.63">-4</tspan></text>
<text transform="translate(378.00,398.40) scale(0.893,1)" font-size="8.06" text-anchor="end" fill="#262626">5.0x10<tspan font-size="5.81" dy="-3.63">-4</tspan></text>
<text transform="translate(491.00,601.00) scale(0.911,1)" font-size="10.98" text-anchor="middle" fill="#262626">Current Density (A/m<tspan font-size="7.6" dy="-4.2">2</tspan><tspan dy="4.2">)</tspan></text>
<text transform="translate(345.00,483.50) rotate(-90) scale(0.893,1)" font-size="10.98" text-anchor="middle" fill="#262626">Critical Bending Moment (N·m)</text>
<text transform="translate(486.00,614.50) scale(0.880,1)" font-size="12.80" text-anchor="middle" fill="#262626">(g)</text>
<path d="M409.00,786.50 L446.75,764.25 L486.00,739.25 L524.25,714.25 L562.50,692.00" fill="none" stroke="#3c3c3c" stroke-width="1.3" stroke-linejoin="round"/>
<rect x="407.05" y="784.55" width="3.90" height="3.90" fill="#3c3c3c"/>
<rect x="444.80" y="762.30" width="3.90" height="3.90" fill="#3c3c3c"/>
<rect x="484.05" y="737.30" width="3.90" height="3.90" fill="#3c3c3c"/>
<rect x="522.30" y="712.30" width="3.90" height="3.90" fill="#3c3c3c"/>
<rect x="560.55" y="690.05" width="3.90" height="3.90" fill="#3c3c3c"/>
<path d="M409.00,781.50 L446.75,763.50 L486.00,740.00 L524.25,718.75 L562.50,697.00" fill="none" stroke="#dc3a3a" stroke-width="1.3" stroke-linejoin="round"/>
<circle cx="409.00" cy="781.50" r="2.15" fill="#dc3a3a"/>
<circle cx="446.75" cy="763.50" r="2.15" fill="#dc3a3a"/>
<circle cx="486.00" cy="740.00" r="2.15" fill="#dc3a3a"/>
<circle cx="524.25" cy="718.75" r="2.15" fill="#dc3a3a"/>
<circle cx="562.50" cy="697.00" r="2.15" fill="#dc3a3a"/>
<path d="M409.00,752.25 L446.75,744.25 L486.00,727.50 L524.25,710.00 L562.50,690.00" fill="none" stroke="#3e5fc0" stroke-width="1.3" stroke-linejoin="round"/>
<path d="M409.00,749.81 L411.56,754.20 L406.44,754.20Z" fill="#3e5fc0"/>
<path d="M446.75,741.81 L449.31,746.20 L444.19,746.20Z" fill="#3e5fc0"/>
<path d="M486.00,725.06 L488.56,729.45 L483.44,729.45Z" fill="#3e5fc0"/>
<path d="M524.25,707.56 L526.81,711.95 L521.69,711.95Z" fill="#3e5fc0"/>
<path d="M562.50,687.56 L565.06,691.95 L559.94,691.95Z" fill="#3e5fc0"/>
<path d="M409.00,715.00 L446.75,711.25 L486.00,703.50 L524.25,692.00 L562.50,677.00" fill="none" stroke="#55ab55" stroke-width="1.3" stroke-linejoin="round"/>
<path d="M409.00,717.44 L411.56,713.05 L406.44,713.05Z" fill="#55ab55"/>
<path d="M446.75,713.69 L449.31,709.30 L444.19,709.30Z" fill="#55ab55"/>
<path d="M486.00,705.94 L488.56,701.55 L483.44,701.55Z" fill="#55ab55"/>
<path d="M524.25,694.44 L526.81,690.05 L521.69,690.05Z" fill="#55ab55"/>
<path d="M562.50,679.44 L565.06,675.05 L559.94,675.05Z" fill="#55ab55"/>
<path d="M409.00,777.75 L446.75,746.50 L486.00,714.00 L524.25,680.75 L562.50,649.25" fill="none" stroke="#9b70c4" stroke-width="1.3" stroke-linejoin="round"/>
<path d="M409.00,775.22 L411.54,777.75 L409.00,780.28 L406.46,777.75Z" fill="#9b70c4"/>
<path d="M446.75,743.97 L449.29,746.50 L446.75,749.03 L444.21,746.50Z" fill="#9b70c4"/>
<path d="M486.00,711.47 L488.54,714.00 L486.00,716.53 L483.46,714.00Z" fill="#9b70c4"/>
<path d="M524.25,678.22 L526.78,680.75 L524.25,683.28 L521.72,680.75Z" fill="#9b70c4"/>
<path d="M562.50,646.72 L565.03,649.25 L562.50,651.78 L559.97,649.25Z" fill="#9b70c4"/>
<rect x="382.75" y="638.75" width="217.75" height="175.85" fill="none" stroke="#676767" stroke-width="1.3"/>
<path d="M406.50,814.6v-3.2 M406.50,638.75v3.2 M461.50,814.6v-3.2 M461.50,638.75v3.2 M516.75,814.6v-3.2 M516.75,638.75v3.2 M571.25,814.6v-3.2 M571.25,638.75v3.2 M434.00,814.6v-2.0 M434.00,638.75v2.0 M489.00,814.6v-2.0 M489.00,638.75v2.0 M544.00,814.6v-2.0 M544.00,638.75v2.0 M382.75,653.25h3.2 M600.5,653.25h-3.2 M382.75,688.33h3.2 M600.5,688.33h-3.2 M382.75,723.42h3.2 M600.5,723.42h-3.2 M382.75,758.50h3.2 M600.5,758.50h-3.2 M382.75,793.58h3.2 M600.5,793.58h-3.2 M382.75,670.79h2.0 M600.5,670.79h-2.0 M382.75,705.88h2.0 M600.5,705.88h-2.0 M382.75,740.96h2.0 M600.5,740.96h-2.0 M382.75,776.04h2.0 M600.5,776.04h-2.0 M382.75,811.12h2.0 M600.5,811.12h-2.0" stroke="#676767" stroke-width="1" fill="none"/>
<text transform="translate(406.50,827.70) scale(0.893,1)" font-size="8.06" text-anchor="middle" fill="#262626">5.3x10<tspan font-size="5.81" dy="-3.63">10</tspan></text>
<text transform="translate(461.50,827.70) scale(0.893,1)" font-size="8.06" text-anchor="middle" fill="#262626">1.1x10<tspan font-size="5.81" dy="-3.63">11</tspan></text>
<text transform="translate(516.75,827.70) scale(0.893,1)" font-size="8.06" text-anchor="middle" fill="#262626">1.6x10<tspan font-size="5.81" dy="-3.63">11</tspan></text>
<text transform="translate(571.25,827.70) scale(0.893,1)" font-size="8.06" text-anchor="middle" fill="#262626">2.1x10<tspan font-size="5.81" dy="-3.63">11</tspan></text>
<text transform="translate(378.25,656.15) scale(0.893,1)" font-size="8.06" text-anchor="end" fill="#262626">1200</text>
<text transform="translate(378.25,691.24) scale(0.893,1)" font-size="8.06" text-anchor="end" fill="#262626">960</text>
<text transform="translate(378.25,726.32) scale(0.893,1)" font-size="8.06" text-anchor="end" fill="#262626">720</text>
<text transform="translate(378.25,761.40) scale(0.893,1)" font-size="8.06" text-anchor="end" fill="#262626">480</text>
<text transform="translate(378.25,796.49) scale(0.893,1)" font-size="8.06" text-anchor="end" fill="#262626">240</text>
<text transform="translate(491.50,844.00) scale(0.911,1)" font-size="10.98" text-anchor="middle" fill="#262626">Current Density (A/m<tspan font-size="7.6" dy="-4.2">2</tspan><tspan dy="4.2">)</tspan></text>
<text transform="translate(358.80,726.50) rotate(-90) scale(0.893,1)" font-size="10.98" text-anchor="middle" fill="#262626">Velocity (m/s)</text>
<text transform="translate(486.00,858.50) scale(0.880,1)" font-size="12.80" text-anchor="middle" fill="#262626">(h)</text>
<rect x="510.5" y="743.75" width="85.00" height="65.25" fill="#fff" stroke="#9a9a9a" stroke-width="0.9"/>
<path d="M511.25,750.50H533.75" stroke="#3c3c3c" stroke-width="1.7"/>
<rect x="520.50" y="748.50" width="4.00" height="4.00" fill="#3c3c3c"/>
<text x="535.50" y="753.45" font-size="8.2" text-anchor="start" fill="#262626" >M=0N·m</text>
<path d="M511.25,764.00H533.75" stroke="#dc3a3a" stroke-width="1.7"/>
<circle cx="522.50" cy="764.00" r="2.20" fill="#dc3a3a"/>
<text x="535.50" y="766.95" font-size="8.2" text-anchor="start" fill="#262626" >M=1×10<tspan font-size="5.41" dy="-3.44">-4</tspan><tspan dy="3.44">N·m</tspan></text>
<path d="M511.25,777.25H533.75" stroke="#3e5fc0" stroke-width="1.7"/>
<path d="M522.50,774.75 L525.12,779.25 L519.88,779.25Z" fill="#3e5fc0"/>
<text x="535.50" y="780.20" font-size="8.2" text-anchor="start" fill="#262626" >M=2×10<tspan font-size="5.41" dy="-3.44">-4</tspan><tspan dy="3.44">N·m</tspan></text>
<path d="M511.25,790.50H533.75" stroke="#55ab55" stroke-width="1.7"/>
<path d="M522.50,793.00 L525.12,788.50 L519.88,788.50Z" fill="#55ab55"/>
<text x="535.50" y="793.45" font-size="8.2" text-anchor="start" fill="#262626" >M=3×10<tspan font-size="5.41" dy="-3.44">-4</tspan><tspan dy="3.44">N·m</tspan></text>
<path d="M511.25,803.00H533.75" stroke="#9b70c4" stroke-width="1.7"/>
<path d="M522.50,800.40 L525.10,803.00 L522.50,805.60 L519.90,803.00Z" fill="#9b70c4"/>
<text x="535.50" y="805.95" font-size="8.2" text-anchor="start" fill="#262626" >Critical Bending</text>
</svg></body></html>
